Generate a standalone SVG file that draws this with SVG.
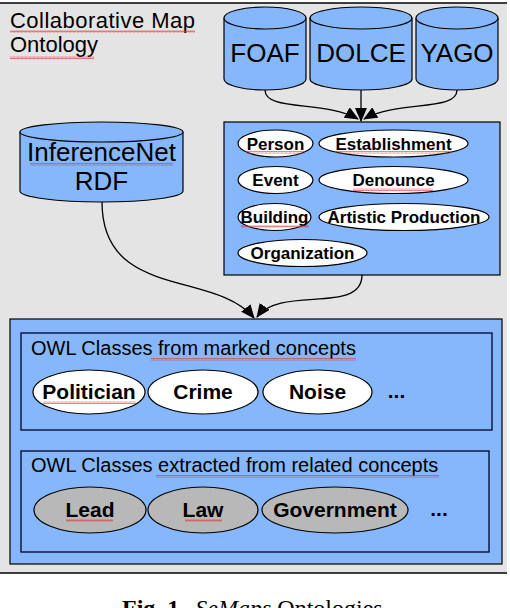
<svg xmlns="http://www.w3.org/2000/svg" width="510" height="608" viewBox="0 0 510 608">
<defs>
<style>
.bg{fill:#e4e4e4}
.cyl{fill:#86b7fa;stroke:#000;stroke-width:1.2}
.box{fill:#86b7fa;stroke:#000;stroke-width:1.2}
.inner{fill:none;stroke:#00002a;stroke-width:1.3}
.ow{fill:#fff;stroke:#000;stroke-width:1.2}
.og{fill:#b8b8b8;stroke:#000;stroke-width:1.2}
.t{font-family:"Liberation Sans",Arial,sans-serif;fill:#000}
.big{font-size:26px;text-anchor:middle}
.lab{font-size:17px;font-weight:bold;text-anchor:middle}
.lab2{font-size:21px;font-weight:bold;text-anchor:middle}
.hd{font-size:20px}
.con{fill:none;stroke:#000;stroke-width:1.3}
.sq{fill:url(#squig)}
</style>
<pattern id="squig" width="4" height="3" patternUnits="userSpaceOnUse">
<path d="M0,2.5 L1,0.5 L2,2.5 L3,0.5 L4,2.5" fill="none" stroke="#d33" stroke-width="0.6"/>
</pattern>
<marker id="ah" viewBox="0 0 14 12" refX="13" refY="6" markerWidth="14" markerHeight="12" markerUnits="userSpaceOnUse" orient="auto">
<path d="M0,0 L14,6 L0,12 z" fill="#000"/>
</marker>
</defs>

<rect class="bg" x="0" y="3" width="507" height="570"/>
<line x1="0" y1="3" x2="507" y2="3" stroke="#000" stroke-width="1.3"/>
<line x1="0" y1="573" x2="507" y2="573" stroke="#000" stroke-width="1.3"/>

<g id="title">
<text class="t" x="10" y="28" font-size="22" textLength="185">Collaborative Map</text>
<text class="t" x="10" y="52" font-size="22">Ontology</text>
<rect class="sq" x="10" y="30" width="185" height="3"/>
<rect class="sq" x="10" y="56" width="84" height="3"/>
</g>

<g id="connectors">
<path class="con" d="M265,90 C265,112 325,100 358,119" marker-end="url(#ah)"/>
<path class="con" d="M361,90 L361,121" marker-end="url(#ah)"/>
<path class="con" d="M457,90 C457,112 397,100 364,119" marker-end="url(#ah)"/>
<path class="con" d="M102,202 C102,300 215,270 254,318" marker-end="url(#ah)"/>
<path class="con" d="M362,275 C362,315 280,285 257,317" marker-end="url(#ah)"/>
</g>

<g id="foaf">
<path class="cyl" d="M224,18 L224,79 A41,11 0 0 0 306,79 L306,18"/>
<ellipse class="cyl" cx="265" cy="18" rx="41" ry="11"/>
<text class="t big" x="265" y="62">FOAF</text>
</g>
<g id="dolce">
<path class="cyl" d="M310,18 L310,79 A51,11 0 0 0 412,79 L412,18"/>
<ellipse class="cyl" cx="361" cy="18" rx="51" ry="11"/>
<text class="t big" x="361" y="62">DOLCE</text>
</g>
<g id="yago">
<path class="cyl" d="M416,18 L416,79 A41,11 0 0 0 498,79 L498,18"/>
<ellipse class="cyl" cx="457" cy="18" rx="41" ry="11"/>
<text class="t big" x="457" y="62">YAGO</text>
</g>

<g id="inferencenet">
<path class="cyl" d="M20,132 L20,191 A81.5,11 0 0 0 183,191 L183,132"/>
<ellipse class="cyl" cx="101.5" cy="132" rx="81.5" ry="10"/>
<text class="t big" x="101.5" y="161" font-size="25">InferenceNet</text>
<text class="t big" x="101.5" y="190" font-size="25">RDF</text>
<rect class="sq" x="30" y="163" width="143" height="3"/>
</g>

<g id="concepts">
<rect class="box" x="224" y="122" width="276" height="153"/>
<ellipse class="ow" cx="275.5" cy="143.5" rx="37.5" ry="13.5"/>
<text class="t lab" x="275.5" y="149.5">Person</text>
<ellipse class="ow" cx="393.5" cy="143.5" rx="74.5" ry="13.5"/>
<text class="t lab" x="393.5" y="149.5">Establishment</text>
<ellipse class="ow" cx="275.5" cy="180" rx="37.5" ry="13.5"/>
<text class="t lab" x="275.5" y="186">Event</text>
<ellipse class="ow" cx="393.5" cy="180" rx="74.5" ry="13.5"/>
<text class="t lab" x="393.5" y="186">Denounce</text>
<ellipse class="ow" cx="274.5" cy="217" rx="36.5" ry="13.5"/>
<text class="t lab" x="274.5" y="223">Building</text>
<ellipse class="ow" cx="404" cy="217" rx="85" ry="13.5"/>
<text class="t lab" x="404" y="223">Artistic Production</text>
<ellipse class="ow" cx="302.5" cy="253" rx="64.5" ry="13.5"/>
<text class="t lab" x="302.5" y="259">Organization</text>
<rect class="sq" x="246" y="151" width="59" height="3"/>
<rect class="sq" x="336" y="151" width="116" height="3"/>
<rect class="sq" x="353" y="188" width="80" height="3"/>
<rect class="sq" x="241" y="225" width="68" height="3"/>
</g>

<g id="owl">
<rect class="box" x="10" y="319" width="492" height="245"/>
<rect class="inner" x="21" y="333" width="471" height="97"/>
<text class="t hd" x="31" y="355">OWL Classes from marked concepts</text>
<rect class="sq" x="151" y="358" width="205" height="3"/>
<ellipse class="ow" cx="89" cy="392" rx="56" ry="22"/>
<text class="t lab2" x="89" y="399">Politician</text>
<rect class="sq" x="43" y="401" width="93" height="3"/>
<ellipse class="ow" cx="203" cy="392" rx="55" ry="22"/>
<text class="t lab2" x="203" y="399">Crime</text>
<ellipse class="ow" cx="317.5" cy="392" rx="54.5" ry="22"/>
<text class="t lab2" x="317.5" y="399">Noise</text>
<text class="t lab2" x="396.5" y="398">...</text>

<rect class="inner" x="21" y="451" width="468" height="101"/>
<text class="t hd" x="31" y="472">OWL Classes extracted from related concepts</text>
<rect class="sq" x="156" y="475" width="283" height="3"/>
<ellipse class="og" cx="90" cy="510" rx="56" ry="23"/>
<text class="t lab2" x="90" y="517">Lead</text>
<rect class="sq" x="66" y="519" width="47" height="3"/>
<ellipse class="og" cx="203" cy="510" rx="55" ry="23"/>
<text class="t lab2" x="203" y="517">Law</text>
<rect class="sq" x="185" y="519" width="37" height="3"/>
<ellipse class="og" cx="335" cy="510" rx="73" ry="23"/>
<text class="t lab2" x="335" y="517">Government</text>
<text class="t lab2" x="439" y="516">...</text>
</g>

<g id="caption">
<text x="122" y="616" font-family="'Liberation Serif','Times New Roman',serif" font-size="24"><tspan font-weight="bold">Fig. 1.</tspan><tspan dx="10" font-style="italic">SeMaps</tspan> Ontologies</text>
</g>
</svg>
